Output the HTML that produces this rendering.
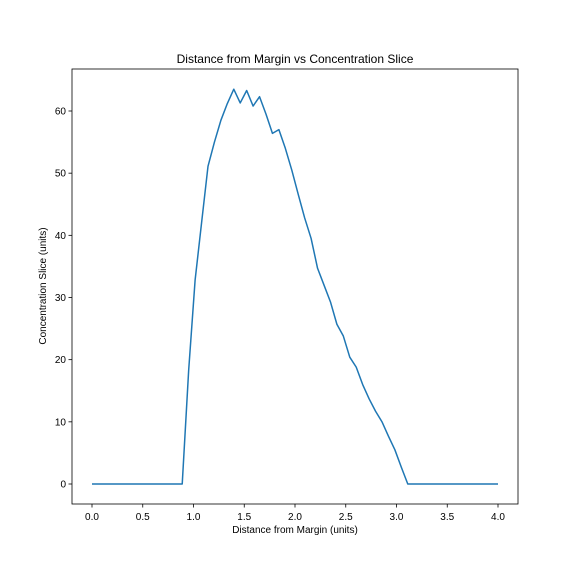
<!DOCTYPE html>
<html><head><meta charset="utf-8"><style>
body{margin:0;background:#fff;}
svg{display:block;font-family:"Liberation Sans","DejaVu Sans",sans-serif;}
</style></head><body>
<svg id="chart" width="576" height="576">
<rect width="576" height="576" fill="#fff"/>
<text x="295" y="63" font-size="12" text-anchor="middle">Distance from Margin vs Concentration Slice</text>
<text x="295" y="533" font-size="10" text-anchor="middle">Distance from Margin (units)</text>
<text x="0" y="0" font-size="10" text-anchor="middle" transform="translate(46,286) rotate(-90)">Concentration Slice (units)</text>
<g id="axes"></g>
</svg>
<script>
const xTicks=[0,0.5,1,1.5,2,2.5,3,3.5,4];
const xTickLabels=["0.0","0.5","1.0","1.5","2.0","2.5","3.0","3.5","4.0"];
const yTicks=[0,10,20,30,40,50,60];
const yTickLabels=["0","10","20","30","40","50","60"];
const nPoints=64;
const xMax=4;
const yValues=[0,0,0,0,0,0,0,0,0,0,0,0,0,0,0,18.3,32.8,42,51.1,55,58.5,61.2,63.5,61.3,63.3,60.8,62.3,59.5,56.4,57,54,50.5,46.6,42.8,39.5,34.7,32,29.3,25.7,23.8,20.4,18.8,16,13.7,11.7,10,7.7,5.5,2.7,0,0,0,0,0,0,0,0,0,0,0,0,0,0,0];
const L=72,R=518,T=69,B=504;
const sx=v=>92+v*(498-92)/4;
const sy=v=>484-v*(484-111)/60;
const NS="http://www.w3.org/2000/svg";
const g=document.getElementById('axes');
function mk(t,a){const e=document.createElementNS(NS,t);for(const k in a)e.setAttribute(k,a[k]);g.appendChild(e);return e;}
const xs=yValues.map((_,i)=>i*xMax/(nPoints-1));
const line=mk('polyline',{points:yValues.map((v,i)=>sx(xs[i]).toFixed(2)+','+sy(v).toFixed(2)).join(' '),fill:'none',stroke:'#1f77b4','stroke-width':1.5,'stroke-linejoin':'round'});


xTicks.forEach((v,i)=>{
 const t=mk('line',{x1:sx(v),x2:sx(v),y1:B,y2:B+3.5,stroke:'#000','stroke-width':0.8});
 
 
 const l=mk('text',{x:sx(v),y:B+16,'font-size':10,'text-anchor':'middle'});l.textContent=xTickLabels[i];
 
 
});
yTicks.forEach((v,i)=>{
 const t=mk('line',{x1:L-3.5,x2:L,y1:sy(v),y2:sy(v),stroke:'#000','stroke-width':0.8});
 
 
 const l=mk('text',{x:L-6,y:sy(v)+3.5,'font-size':10,'text-anchor':'end'});l.textContent=yTickLabels[i];
 
 
});
const f=mk('rect',{x:L,y:T,width:R-L,height:B-T,fill:'none',stroke:'#000','stroke-width':0.8});


</script>
</body></html>
